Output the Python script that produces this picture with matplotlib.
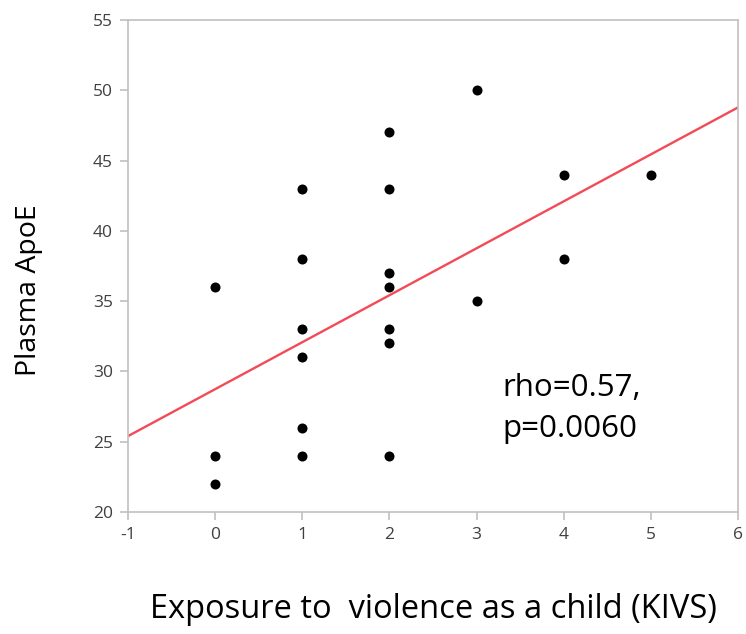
import numpy as np
import matplotlib.pyplot as plt

# exposure score (KIVS) and plasma ApoE
kivs = [0, 0, 0,
        1, 1, 1, 1, 1, 1,
        2, 2, 2, 2, 2, 2, 2,
        3, 3,
        4, 4,
        5]
apoe = [36, 24, 22,
        43, 38, 33, 31, 26, 24,
        47, 43, 37, 36, 33, 32, 24,
        50, 35,
        44, 38,
        44]
# fitted line as drawn in the figure
fit_intercept = 28.74
fit_slope = 3.34

x_ticks = [-1, 0, 1, 2, 3, 4, 5, 6]
y_ticks = [20, 25, 30, 35, 40, 45, 50, 55]
stats_text = "rho=0.57,\np=0.0060"

fig = plt.figure(figsize=(7.46, 6.34), dpi=100)
ax = fig.add_axes([0.1716, 0.1924, 0.8177, 0.7761])

x = np.array(kivs, dtype=float)
y = np.array(apoe, dtype=float)

xs = np.array([x_ticks[0], x_ticks[-1]], dtype=float)
ax.plot(xs, fit_intercept + fit_slope * xs, color='#f24b57', linewidth=1.7,
        zorder=2)

ax.scatter(x, y, s=52, color='black', zorder=3, linewidths=0)

ax.set_xlim(x_ticks[0], x_ticks[-1])
ax.set_ylim(y_ticks[0], y_ticks[-1])
ax.set_xticks(x_ticks)
ax.set_yticks(y_ticks)
ax.set_xticklabels([str(t) for t in x_ticks])

for s in ax.spines.values():
    s.set_color('#c0c0c0')
    s.set_linewidth(1.2)
ax.tick_params(colors='#c0c0c0', length=6, width=1.2, labelcolor='#404040',
               labelsize=12.5, pad=5)
for lab in ax.get_xticklabels() + ax.get_yticklabels():
    lab.set_family('Open Sans')

ax.set_xlabel("Exposure to  violence as a child (KIVS)", family='Open Sans',
              fontsize=23.5, labelpad=36)
ax.set_ylabel("Plasma ApoE", family='Open Sans', fontsize=20.5, labelpad=36)
ax.yaxis.label.set_y(0.45)

ax.text(0.614, 0.283, stats_text, transform=ax.transAxes, family='Open Sans',
        fontsize=22.5, linespacing=1.5, va='top', ha='left')

fig.savefig('out.png', dpi=100)
